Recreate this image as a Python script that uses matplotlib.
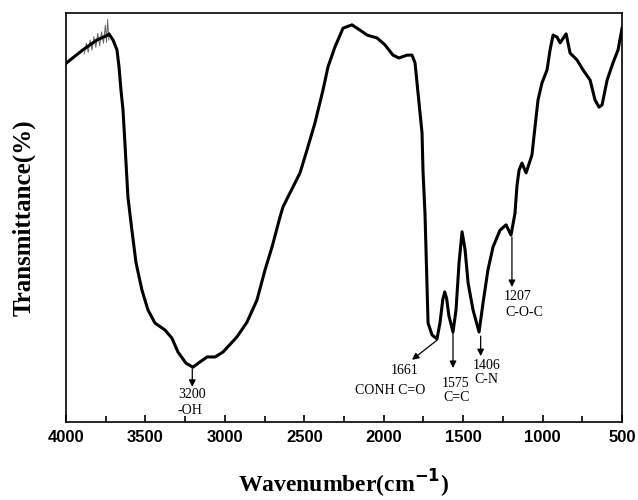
import matplotlib.pyplot as plt
from matplotlib.ticker import MultipleLocator

# FTIR spectrum (wavenumber in cm-1, transmittance in arbitrary %)
wavenumber = [4000, 3893, 3805, 3736, 3729, 3704, 3679, 3666, 3654, 3641,
              3629, 3622, 3610, 3585, 3559, 3522, 3484, 3440, 3377, 3333,
              3295, 3245, 3201, 3156, 3112, 3062, 3012, 2924, 2861, 2798,
              2747, 2703, 2653, 2634, 2527, 2483, 2433, 2382, 2351, 2307,
              2256, 2200, 2149, 2105, 2042, 1992, 1942, 1904, 1853, 1822,
              1803, 1784, 1759, 1753, 1740, 1728, 1721, 1696, 1665, 1646,
              1628, 1616, 1604, 1590, 1564, 1545, 1526, 1507, 1488, 1469, 1438,
              1400, 1375, 1344, 1312, 1268, 1230, 1199, 1174, 1161, 1148,
              1130, 1104, 1067, 1048, 1029, 1004, 972, 953, 934, 909,
              890, 852, 827, 783, 746, 701, 670, 645, 626, 594,
              557, 525, 500]
transmittance = [87.7, 91.0, 93.4, 94.6, 94.9, 93.4, 91.0, 86.8, 81.2, 76.3,
                 68.2, 63.3, 55.0, 46.9, 38.9, 32.3, 27.4, 24.2, 22.5, 20.5,
                 17.1, 14.4, 13.4, 14.7, 15.9, 15.9, 17.1, 20.8, 24.4, 29.8,
                 37.2, 42.8, 50.1, 52.6, 60.9, 66.5, 73.1, 81.2, 86.8, 91.7,
                 96.3, 97.1, 95.8, 94.6, 93.9, 92.2, 89.7, 89.0, 89.7, 89.7,
                 87.8, 80.4, 70.7, 61.6, 50.6, 34.0, 24.2, 21.3, 20.3, 24.2,
                 30.0, 31.8, 30.2, 26.0, 22.0, 27.4, 38.9, 46.5, 42.1, 34.0, 27.4,
                 22.0, 29.1, 37.2, 42.8, 46.9, 48.2, 45.7, 51.0, 57.9, 61.6,
                 63.3, 60.9, 65.3, 72.1, 78.7, 82.9, 86.1, 91.0, 94.6, 94.1,
                 92.7, 94.9, 90.2, 88.5, 86.1, 83.6, 78.7, 77.0, 77.5, 83.6,
                 87.8, 91.0, 96.3]

# noisy stretch between 3900 and 3720
noise_wn = [3885, 3872, 3860, 3848, 3836, 3824, 3812, 3800, 3788, 3776,
            3764, 3752, 3745, 3738, 3730]
noise_t = [90.0, 92.6, 90.4, 93.4, 90.9, 94.2, 91.6, 95.0, 92.0, 95.4,
           92.6, 97.0, 92.8, 98.4, 93.4]

# peak markers: arrow tail (x, y) -> head (x, y)
arrows = [(3205, 13.0, 3205, 8.6),
          (1665, 20.0, 1822, 15.2),
          (1564, 21.8, 1564, 13.2),
          (1390, 21.0, 1390, 16.1),
          (1193, 45.2, 1193, 33.0)]
# peak labels: text, x, y (centre)
labels = [("3200", 3207, 6.8), ("-OH", 3219, 2.7),
          ("1661", 1866, 12.5), ("CONH C=O", 1960, 7.8),
          ("1575", 1551, 9.5), ("C=C", 1539, 6.1),
          ("1406", 1350, 13.9), ("C-N", 1356, 10.3),
          ("1207", 1155, 30.6), ("C-O-C", 1117, 26.7)]

fig = plt.figure(figsize=(6.38, 5.0), dpi=100)
ax = fig.add_axes([0.1034, 0.156, 0.8716, 0.818])

ax.plot(noise_wn, noise_t, color='0.4', lw=0.7)
ax.plot(wavenumber, transmittance, color='black', lw=2.2, solid_joinstyle='round')

for x0, y0, x1, y1 in arrows:
    ax.annotate('', xy=(x1, y1), xytext=(x0, y0),
                arrowprops=dict(arrowstyle='-|>', color='black', lw=0.9,
                                mutation_scale=10, shrinkA=0, shrinkB=0))
for txt, x, y in labels:
    ax.text(x, y, txt, ha='center', va='center', fontsize=10,
            family='Liberation Serif')

ax.set_xlim(4000, 500)
ax.set_ylim(0, 100)
ax.xaxis.set_major_locator(MultipleLocator(500))
ax.xaxis.set_minor_locator(MultipleLocator(250))
ax.tick_params(axis='x', which='both', direction='in', top=False, width=1.2)
ax.tick_params(axis='x', which='major', length=5, pad=6)
ax.tick_params(axis='x', which='minor', length=4)
ax.set_yticks([])
for lbl in ax.get_xticklabels():
    lbl.set_fontfamily('Liberation Sans')
    lbl.set_fontweight('bold')
    lbl.set_fontsize(12)
for s in ax.spines.values():
    s.set_linewidth(1.2)

ax.set_xlabel('Wavenumber(cm$^{\\mathbf{-1}}$)', family='Liberation Serif',
              fontweight='bold', fontsize=17, labelpad=16)
ax.set_ylabel('Transmittance(%)', family='Liberation Serif',
              fontweight='bold', fontsize=18, labelpad=22)

fig.savefig('out.png', dpi=100)
